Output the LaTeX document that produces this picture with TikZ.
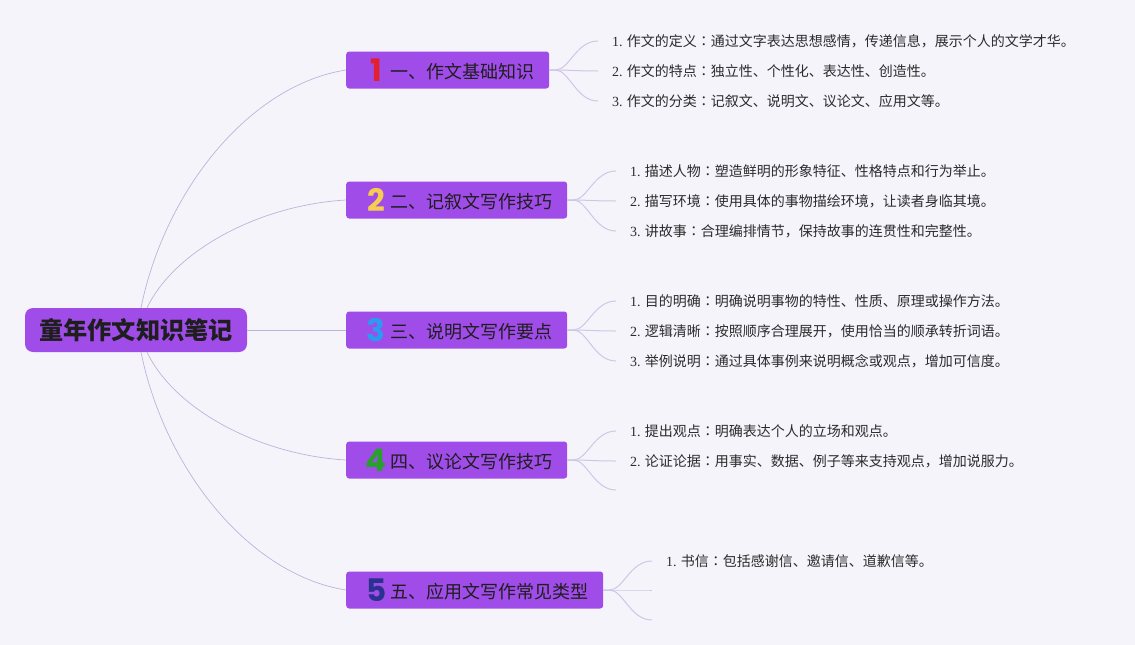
\documentclass[tikz,border=0pt]{standalone}
\usepackage{fontspec}
\setmainfont{Noto Sans CJK SC}
\newfontfamily\cjk{Noto Sans CJK SC}
\newfontfamily\cjktc{Noto Sans CJK TC}
\newfontfamily\numf{Liberation Serif}
\newfontfamily\iconf{Poppins}
\definecolor{bgc}{HTML}{F6F4FB}
\definecolor{boxc}{HTML}{A04CE8}
\definecolor{linec}{HTML}{BDB3DA}
\definecolor{leafline}{HTML}{CFC6E6}
\definecolor{txtc}{HTML}{1E1E1E}
\definecolor{leaftxt}{HTML}{2B2B2B}
\definecolor{ic1}{HTML}{E3202E}
\definecolor{ic2}{HTML}{F6CD4E}
\definecolor{ic3}{HTML}{2B9BEF}
\definecolor{ic4}{HTML}{26A12B}
\definecolor{ic5}{HTML}{2A3190}
\newcommand{\numicon}[2]{\makebox[20pt][c]{\iconf\bfseries\fontsize{31}{31}\selectfont\color{#1}\raisebox{-3pt}{#2}}}
\newcommand{\cc}{{\cjktc ：}}
\tikzset{
  rootbox/.style={fill=boxc, rounded corners=8pt, minimum width=222pt, minimum height=44pt, inner sep=0pt, text=txtc, font=\cjk\bfseries\fontsize{24.2}{26}\selectfont},
  branchbox/.style={fill=boxc, rounded corners=3pt, minimum height=37pt, inner xsep=0pt, inner ysep=0pt, anchor=west, text=txtc, font=\cjk\fontsize{18}{20}\selectfont},
  leaf/.style={anchor=west, inner sep=0pt, text=leaftxt, font=\cjk\fontsize{14}{16}\selectfont},
  rootlink/.style={draw=linec, line width=0.7pt},
  leaflink/.style={draw=leafline, line width=1pt},
}
\newcommand{\brtext}[2]{\hspace*{20pt}#1\hspace{4pt}#2\hspace*{15pt}}
\begin{document}
\begin{tikzpicture}[x=1pt,y=-1pt]
\fill[bgc] (0,0) rectangle (1135,645);
\useasboundingbox (0,0) rectangle (1135,645);

% root
\node[rootbox] (root) at (136,330) {童年作文知识笔记};

% branches
\node[branchbox] (b1) at (346,70) {\brtext{\numicon{ic1}{1}}{一、作文基础知识}};
\node[branchbox] (b2) at (346,200) {\brtext{\numicon{ic2}{2}}{二、记叙文写作技巧}};
\node[branchbox] (b3) at (346,330) {\brtext{\numicon{ic3}{3}}{三、说明文写作要点}};
\node[branchbox] (b4) at (346,460) {\brtext{\numicon{ic4}{4}}{四、议论文写作技巧}};
\node[branchbox] (b5) at (346,590) {\brtext{\numicon{ic5}{5}}{五、应用文写作常见类型}};

% root links
\draw[rootlink] ([xshift=5pt]root.north) .. controls +(24,-118) and +(-96,15) .. (b1.west);
\draw[rootlink] ([xshift=11pt]root.north) .. controls +(28,-58) and +(-86,5) .. (b2.west);
\draw[rootlink] (root.east) -- (b3.west);
\draw[rootlink] ([xshift=11pt]root.south) .. controls +(28,58) and +(-86,-5) .. (b4.west);
\draw[rootlink] ([xshift=5pt]root.south) .. controls +(24,118) and +(-96,-15) .. (b5.west);

% leaves
\node[leaf] (l11) at (612,41) {{\numf 1.} 作文的定义\cc 通过文字表达思想感情，传递信息，展示个人的文学才华。};
\node[leaf] (l12) at (612,71) {{\numf 2.} 作文的特点\cc 独立性、个性化、表达性、创造性。};
\node[leaf] (l13) at (612,101) {{\numf 3.} 作文的分类\cc 记叙文、说明文、议论文、应用文等。};

\node[leaf] (l21) at (630,171) {{\numf 1.} 描述人物\cc 塑造鲜明的形象特征、性格特点和行为举止。};
\node[leaf] (l22) at (630,201) {{\numf 2.} 描写环境\cc 使用具体的事物描绘环境，让读者身临其境。};
\node[leaf] (l23) at (630,231) {{\numf 3.} 讲故事\cc 合理编排情节，保持故事的连贯性和完整性。};

\node[leaf] (l31) at (630,301) {{\numf 1.} 目的明确\cc 明确说明事物的特性、性质、原理或操作方法。};
\node[leaf] (l32) at (630,331) {{\numf 2.} 逻辑清晰\cc 按照顺序合理展开，使用恰当的顺承转折词语。};
\node[leaf] (l33) at (630,361) {{\numf 3.} 举例说明\cc 通过具体事例来说明概念或观点，增加可信度。};

\node[leaf] (l41) at (630,431) {{\numf 1.} 提出观点\cc 明确表达个人的立场和观点。};
\node[leaf] (l42) at (630,461) {{\numf 2.} 论证论据\cc 用事实、数据、例子等来支持观点，增加说服力。};
\coordinate (e43) at (616,490);

\node[leaf] (l51) at (666,561) {{\numf 1.} 书信\cc 包括感谢信、邀请信、道歉信等。};
\coordinate (e52) at (652,590);
\coordinate (e53) at (652,620);

% leaf links
\foreach \b/\e in {b1/l11,b1/l12,b1/l13,b2/l21,b2/l22,b2/l23,b3/l31,b3/l32,b3/l33,b4/l41,b4/l42,b5/l51}{
  \draw[leaflink] (\b.east) -- ++(6,0) .. controls +(14,0) and +(-22,0) .. ([xshift=-14pt]\e.west);
}
\foreach \b/\e in {b4/e43,b5/e52,b5/e53}{
  \draw[leaflink] (\b.east) -- ++(6,0) .. controls +(14,0) and +(-22,0) .. (\e);
}
\end{tikzpicture}
\end{document}
